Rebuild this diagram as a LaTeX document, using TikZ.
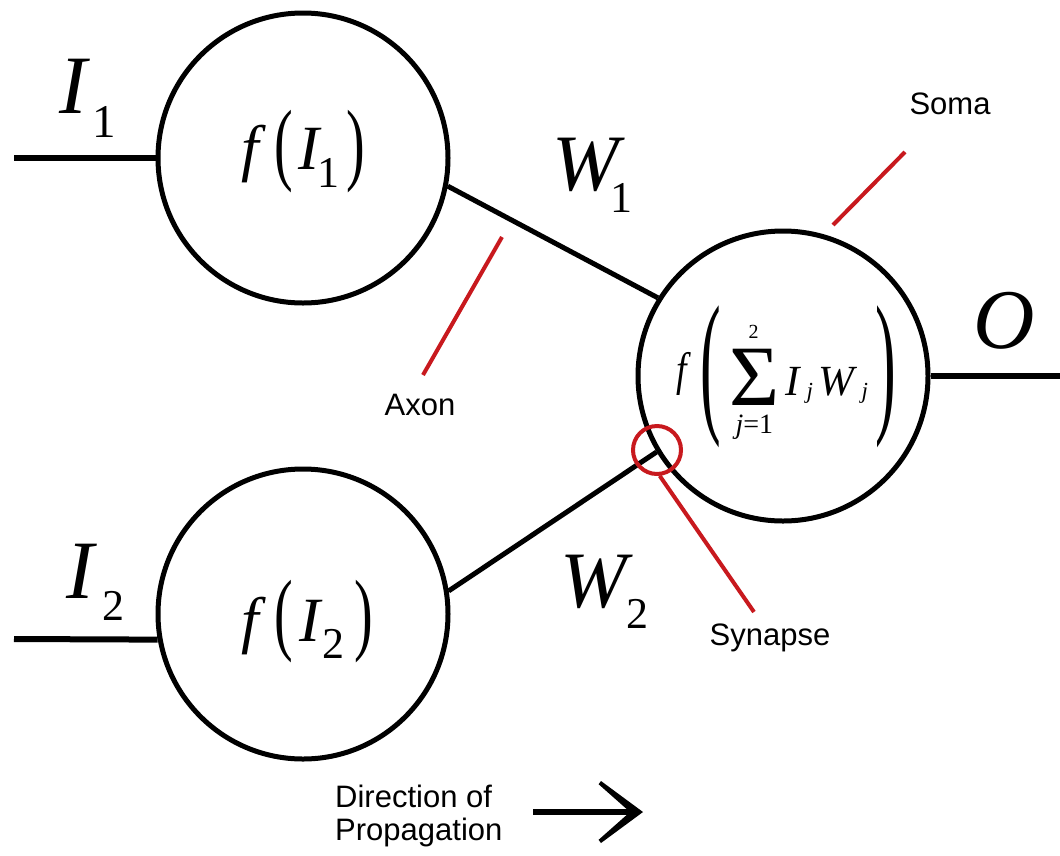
\documentclass[tikz,border=0pt]{standalone}
\usepackage{fontspec}
\usepackage{graphicx}
\setmainfont{Liberation Serif}
\newfontfamily\arialf{Liberation Sans}
\newcommand{\fsz}[1]{\fontsize{#1pt}{#1pt}\selectfont}
\newcommand{\pc}[3]{\rlap{\kern#1pt\raisebox{#2pt}{#3}}}
\definecolor{synred}{RGB}{200,25,30}
\begin{document}
\begin{tikzpicture}[x=1pt,y=-1pt,
  neuron/.style={circle,draw=black,line width=5pt,minimum size=290pt,inner sep=0pt},
  wire/.style={draw=black,line width=5pt},
  inwire/.style={draw=black,line width=6pt},
  redline/.style={draw=synred,line width=4pt},
  formula/.style={anchor=base west,inner sep=0pt,outer sep=0pt},
  sanslbl/.style={font=\arialf\fontsize{31pt}{33pt}\selectfont,inner sep=0pt,text=black}]
\fill[white] (0,0) rectangle (1060,855);
\useasboundingbox (0,0) rectangle (1060,855);
% neurons
\node[neuron] (n1) at (303,158) {};
\node[neuron] (n2) at (303,614) {};
\node[neuron] (n3) at (783,376) {};
\coordinate (in1) at (14,158);
\coordinate (in2) at (14,639);
\coordinate (out) at (1060,376);
\draw[inwire] (in1) -- (n1.west);
\draw[inwire] (in2) -- (n2.190);
\draw[wire] (n1.349) -- (n3.148);
\draw[wire] (n2.9) -- (n3.211);
\draw[inwire] (n3.east) -- (out);
% formulas
\node[formula] (lI1) at (58.7,113) {\pc{0}{0}{\fsz{83}\itshape I}\pc{33.3}{-24}{\fsz{47}1}};
\node[formula] (lI2) at (65.7,598) {\pc{0}{0}{\fsz{83}\itshape I}\pc{36.3}{-22}{\fsz{44}2}};
\node[formula] (lW1) at (551.7,190) {\pc{0}{0}{\fsz{80}\itshape W}\pc{58.3}{-22}{\fsz{44}1}};
\node[formula] (lW2) at (559.7,607) {\pc{0}{0}{\fsz{80}\itshape W}\pc{66}{-21}{\fsz{44}2}};
\node[formula] (lO) at (973,348.5) {\fsz{85}\itshape O};
\node[formula] (fI1) at (241,169) {\pc{0}{0}{\fsz{63}\itshape f}\pc{33.3}{-4.8}{\fsz{56}\scalebox{1}[1.63]{(}}\pc{56.5}{0}{\fsz{63}\itshape I}\pc{76}{-18}{\fsz{44}1}\pc{105.4}{-4.8}{\fsz{56}\scalebox{1}[1.63]{)}}};
\node[formula] (fI2) at (241,641) {\pc{0}{0}{\fsz{63}\itshape f}\pc{33.3}{-2.8}{\fsz{56}\scalebox{1}[1.63]{(}}\pc{57.5}{0}{\fsz{63}\itshape I}\pc{80.7}{-17}{\fsz{44}2}\pc{112.5}{-2.8}{\fsz{56}\scalebox{1}[1.63]{)}}};
\node[formula] (fsum) at (670,395) {\pc{5.5}{10}{\fsz{47}\scalebox{0.8}[1]{\itshape f}}\pc{30}{-19.2}{\fsz{62}\scalebox{1}[2.53]{(}}\pc{59}{-10}{\fsz{86}Σ}\pc{78}{57}{\fsz{20}2}\pc{65}{-38}{\fsz{28}\itshape j\upshape =1}\pc{115.3}{0}{\fsz{43}\itshape I}\pc{136}{-3}{\fsz{23}\itshape j}\pc{148.2}{0}{\fsz{43}\itshape W}\pc{191}{-3}{\fsz{23}\itshape j}\pc{205.2}{-19.2}{\fsz{62}\scalebox{1}[2.53]{)}}};
% synapse
\node[circle,draw=synred,line width=4pt,minimum size=48pt,inner sep=0pt] (syn) at (657,450) {};
\coordinate (synend) at (754,612);
\draw[redline] (syn.276) -- (synend);
\node[sanslbl,anchor=base] (synlbl) at (770,645) {Synapse};
% axon
\coordinate (axA) at (502,237);
\coordinate (axB) at (423,375);
\draw[redline] (axA) -- (axB);
\node[sanslbl,anchor=base] (axon) at (420,415) {Axon};
% soma
\coordinate (soA) at (833,225);
\coordinate (soB) at (905,152);
\draw[redline] (soA) -- (soB);
\node[sanslbl,anchor=base] (soma) at (950,114) {Soma};
% direction
\node[sanslbl,anchor=west,align=left] (dir) at (335,815.5) {Direction of\\Propagation};
\coordinate (arS) at (533,812);
\coordinate (arT) at (632,812);
\draw[line width=6pt] (arS) -- (arT);
\fill[black] (601,781) -- (643,812) -- (601,843) -- (598.6,839.8) -- (630,812) -- (598.6,784.2) -- cycle;
\end{tikzpicture}
\end{document}
